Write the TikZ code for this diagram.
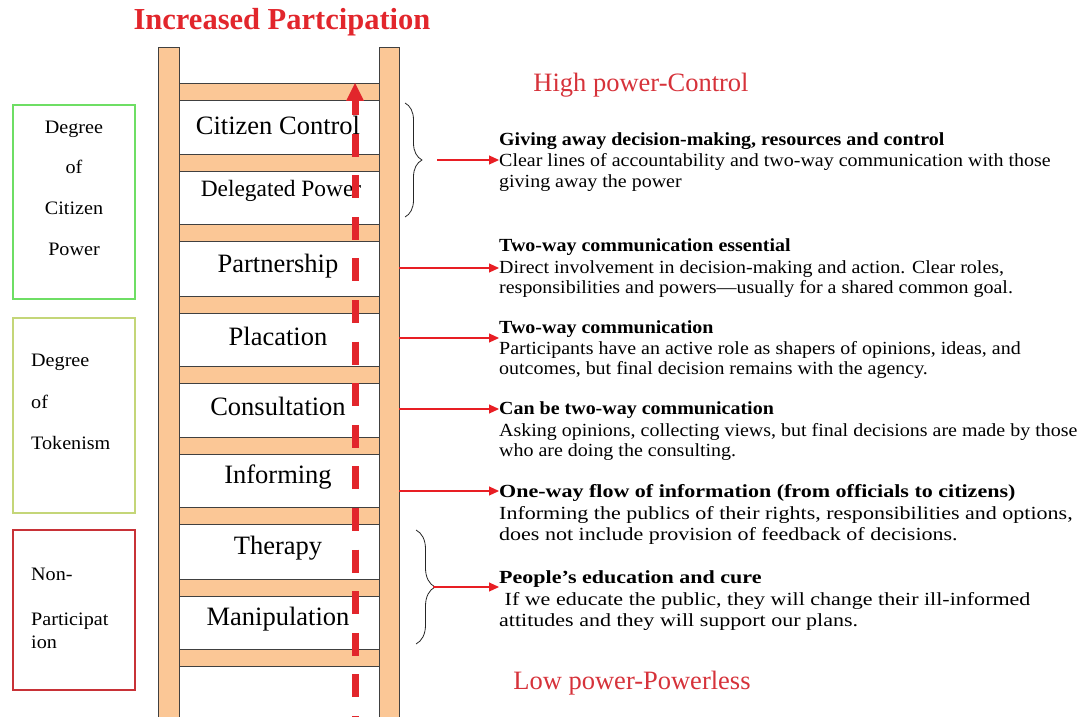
\documentclass[tikz,border=0pt]{standalone}
\usepackage{fontspec}
\setmainfont{Liberation Serif}
\newfontfamily\descfont[FakeStretch=1.08,Ligatures=TeX]{Liberation Serif}
\newfontfamily\widefont[FakeStretch=1.19,Ligatures=TeX]{Liberation Serif}
\newfontfamily\sidefont[FakeStretch=1.06,Ligatures=TeX]{Liberation Serif}
\usetikzlibrary{decorations.pathreplacing,arrows.meta}
\definecolor{rail}{RGB}{251,199,150}
\definecolor{tred}{RGB}{226,38,44}
\definecolor{hred}{RGB}{214,50,58}
\definecolor{arred}{RGB}{232,30,36}
\definecolor{gbox}{RGB}{110,222,100}
\definecolor{ybox}{RGB}{196,214,120}
\definecolor{rbox}{RGB}{200,50,55}
\tikzset{
  rungbox/.style={fill=rail,draw=black!75,line width=0.9},
  runglabel/.style={font=\fontsize{26.5}{28}\selectfont,inner sep=0},
  sidebox/.style={line width=1.1},
  sidetext/.style={font=\sidefont\fontsize{19}{22}\selectfont,inner sep=0},
  desc/.style={font=\descfont\fontsize{18.5}{20}\selectfont,inner sep=0,anchor=base west},
  descb/.style={desc,font=\descfont\fontsize{18.5}{20}\selectfont\bfseries},
  wdesc/.style={desc,font=\widefont\fontsize{18.5}{20}\selectfont},
  wdescb/.style={desc,font=\widefont\fontsize{18.5}{20}\selectfont\bfseries},
  rarrow/.style={arred,line width=1.1,-{Triangle[length=10,width=9]}},
  bracestyle/.style={decorate,decoration={brace,amplitude=#1},line width=0.8,black!85}
}
\begin{document}
\begin{tikzpicture}[x=1pt,y=-1pt]
\useasboundingbox (0,0) rectangle (1085,717);
% title
\node[font=\fontsize{30.5}{34}\selectfont\bfseries,text=tred,inner sep=0] (title) at (282,22) {Increased Partcipation};
% rails
\fill[rail] (158,47) rectangle (179,717);
\draw[black!75,line width=0.9] (158,717) -- (158,47) -- (179,47) -- (179,717);
\fill[rail] (379,47) rectangle (399,717);
\draw[black!75,line width=0.9] (379,717) -- (379,47) -- (399,47) -- (399,717);
% rungs
\foreach \y in {83,154,224,296,366,437,507,579,649}
  \draw[rungbox] (179,\y) rectangle (379,\y+17);
% rung labels
\node[runglabel] (cc) at (278,125) {Citizen Control};
\node[runglabel,font=\fontsize{23.4}{26}\selectfont] (dp) at (281,191) {Delegated Power};
\node[runglabel] (pa) at (278,266) {Partnership};
\node[runglabel] (pl) at (278,336) {Placation};
\node[runglabel] (co) at (278,406) {Consultation};
\node[runglabel] (in) at (278,477) {Informing};
\node[runglabel] (th) at (278,548) {Therapy};
\node[runglabel] (ma) at (278,619) {Manipulation};
% dashed arrow
\coordinate (arrtop) at (355,83);
\coordinate (arrbot) at (355,717);
\draw[tred,line width=7,dash pattern=on 23 off 18.6] (355,92) -- (arrbot);
\fill[tred] (346,101) -- (arrtop) -- (364,101) -- cycle;
% left boxes
\draw[gbox,sidebox] (13,105) rectangle (135,299);
\node[sidetext,align=center,font=\sidefont\fontsize{19}{40.7}\selectfont] (cp) at (74,188) {Degree\\of\\Citizen\\Power};
\draw[ybox,sidebox] (13,318) rectangle (135,513);
\node[sidetext,align=left,anchor=west,font=\sidefont\fontsize{19}{41.5}\selectfont] (tk) at (31,402) {Degree\\of\\Tokenism};
\draw[rbox,sidebox] (13,530) rectangle (135,690);
\node[sidetext,anchor=west] (np1) at (31,574) {Non-};
\node[sidetext,align=left,anchor=west,font=\sidefont\fontsize{19}{23}\selectfont] (np2) at (31,631) {Participat\\ion};
% power labels
\node[font=\fontsize{26.5}{28}\selectfont,text=hred,inner sep=0] (hp) at (641,85) {High power-Control};
\node[font=\fontsize{26.5}{28}\selectfont,text=hred,inner sep=0] (lp) at (632,683) {Low power-Powerless};
% braces
\draw[bracestyle=17] (405,103) -- (405,217);
\draw[bracestyle=19] (416,530) -- (416,644);
% descriptions
\node[descb] (b1a) at (499,146) {Giving away decision-making, resources and control};
\node[desc] (b1b) at (499,166) {Clear lines of accountability and two-way communication with those};
\node[desc] (b1c) at (499,187) {giving away the power};
\node[descb] (b2a) at (499,251) {Two-way communication essential};
\node[desc] (b2b) at (499,273) {Direct involvement in decision-making and action. Clear roles,};
\node[desc] (b2c) at (499,293) {responsibilities and powers—usually for a shared common goal.};
\node[descb] (b3a) at (499,333) {Two-way communication};
\node[desc] (b3b) at (499,354) {Participants have an active role as shapers of opinions, ideas, and};
\node[desc] (b3c) at (499,374) {outcomes, but final decision remains with the agency.};
\node[descb] (b4a) at (499,414) {Can be two-way communication};
\node[desc] (b4b) at (499,436) {Asking opinions, collecting views, but final decisions are made by those};
\node[desc] (b4c) at (499,456) {who are doing the consulting.};
\node[wdescb] (b5a) at (499,497) {One-way flow of information (from officials to citizens)};
\node[wdesc] (b5b) at (499,519) {Informing the publics of their rights, responsibilities and options,};
\node[wdesc] (b5c) at (499,540) {does not include provision of feedback of decisions.};
\node[wdescb] (b6a) at (499,583) {People’s education and cure};
\node[wdesc] (b6b) at (499,605) {\ If we educate the public, they will change their ill-informed};
\node[wdesc] (b6c) at (499,626) {attitudes and they will support our plans.};
% arrows
\coordinate (s1) at (437,160);
\coordinate (s2) at (399,268);
\coordinate (s3) at (399,338);
\coordinate (s4) at (399,409);
\coordinate (s5) at (399,491);
\coordinate (s6) at (433,587);
\draw[rarrow] (s1) -- (s1 -| b1b.west);
\draw[rarrow] (s2) -- (s2 -| b2b.west);
\draw[rarrow] (s3) -- (s3 -| b3a.west);
\draw[rarrow] (s4) -- (s4 -| b4a.west);
\draw[rarrow] (s5) -- (s5 -| b5a.west);
\draw[rarrow] (s6) -- (s6 -| b6a.west);
\end{tikzpicture}
\end{document}
